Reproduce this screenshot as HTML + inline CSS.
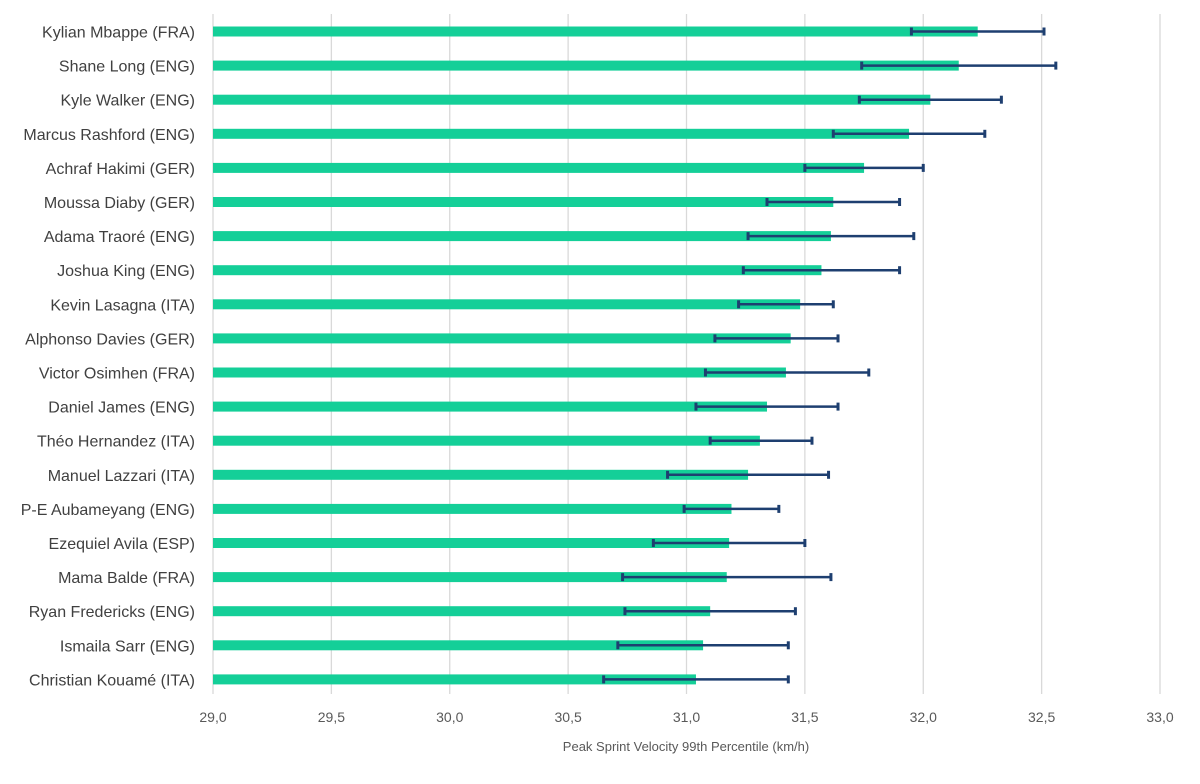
<!DOCTYPE html>
<html><head><meta charset="utf-8"><style>
body{margin:0;background:#fff;}
svg text{font-family:"Liberation Sans",sans-serif;}
</style></head><body>
<svg id="chart" width="1200" height="779" xmlns="http://www.w3.org/2000/svg"></svg>
<script>
const players=["Kylian Mbappe (FRA)","Shane Long (ENG)","Kyle Walker (ENG)","Marcus Rashford (ENG)","Achraf Hakimi (GER)","Moussa Diaby (GER)","Adama Traoré (ENG)","Joshua King (ENG)","Kevin Lasagna (ITA)","Alphonso Davies (GER)","Victor Osimhen (FRA)","Daniel James (ENG)","Théo Hernandez (ITA)","Manuel Lazzari (ITA)","P-E Aubameyang (ENG)","Ezequiel Avila (ESP)","Mama Balde (FRA)","Ryan Fredericks (ENG)","Ismaila Sarr (ENG)","Christian Kouamé (ITA)"];
const values=[32.23,32.15,32.03,31.94,31.75,31.62,31.61,31.57,31.48,31.44,31.42,31.34,31.31,31.26,31.19,31.18,31.17,31.10,31.07,31.04];
const errLow=[31.95,31.74,31.73,31.62,31.50,31.34,31.26,31.24,31.22,31.12,31.08,31.04,31.10,30.92,30.99,30.86,30.73,30.74,30.71,30.65];
const errHigh=[32.51,32.56,32.33,32.26,32.00,31.90,31.96,31.90,31.62,31.64,31.77,31.64,31.53,31.60,31.39,31.50,31.61,31.46,31.43,31.43];
const ticks=[29.0,29.5,30.0,30.5,31.0,31.5,32.0,32.5,33.0];
const svg=document.getElementById('chart');
const NS='http://www.w3.org/2000/svg';
const x=v=>213+(v-29)*236.75;
const y=i=>31.5+i*34.1;
function mk(t,a){const e=document.createElementNS(NS,t);for(const k in a)e.setAttribute(k,a[k]);svg.appendChild(e);return e;}
ticks.forEach((t,i)=>{
  const g=mk('line',{x1:x(t),x2:x(t),y1:14,y2:694,stroke:'#d9d9d9','stroke-width':1.3});
  
  
  const l=mk('text',{x:x(t),y:722,'text-anchor':'middle','font-size':14,fill:'#595959'});
  l.textContent=t.toFixed(1).replace('.',',');
  
  
});
players.forEach((p,i)=>{
  const cy=y(i);
  const b=mk('rect',{x:x(29),y:cy-5,width:x(values[i])-x(29),height:10,fill:'#14cf98'});
  
  
  const e=mk('line',{x1:x(errLow[i]),x2:x(errHigh[i]),y1:cy,y2:cy,stroke:'#1e3f70','stroke-width':2.5});
  
  
  [errLow[i],errHigh[i]].forEach(v=>{
    const c=mk('line',{x1:x(v),x2:x(v),y1:cy-4,y2:cy+4,stroke:'#1e3f70','stroke-width':3});
    
    
  });
  const t=mk('text',{x:195,y:cy+6,'text-anchor':'end','font-size':16,fill:'#404040'});
  t.textContent=p;
  
  
});
const at=mk('text',{x:686,y:751,'text-anchor':'middle','font-size':13,fill:'#595959'});
at.textContent='Peak Sprint Velocity 99th Percentile (km/h)';


</script>
</body></html>
